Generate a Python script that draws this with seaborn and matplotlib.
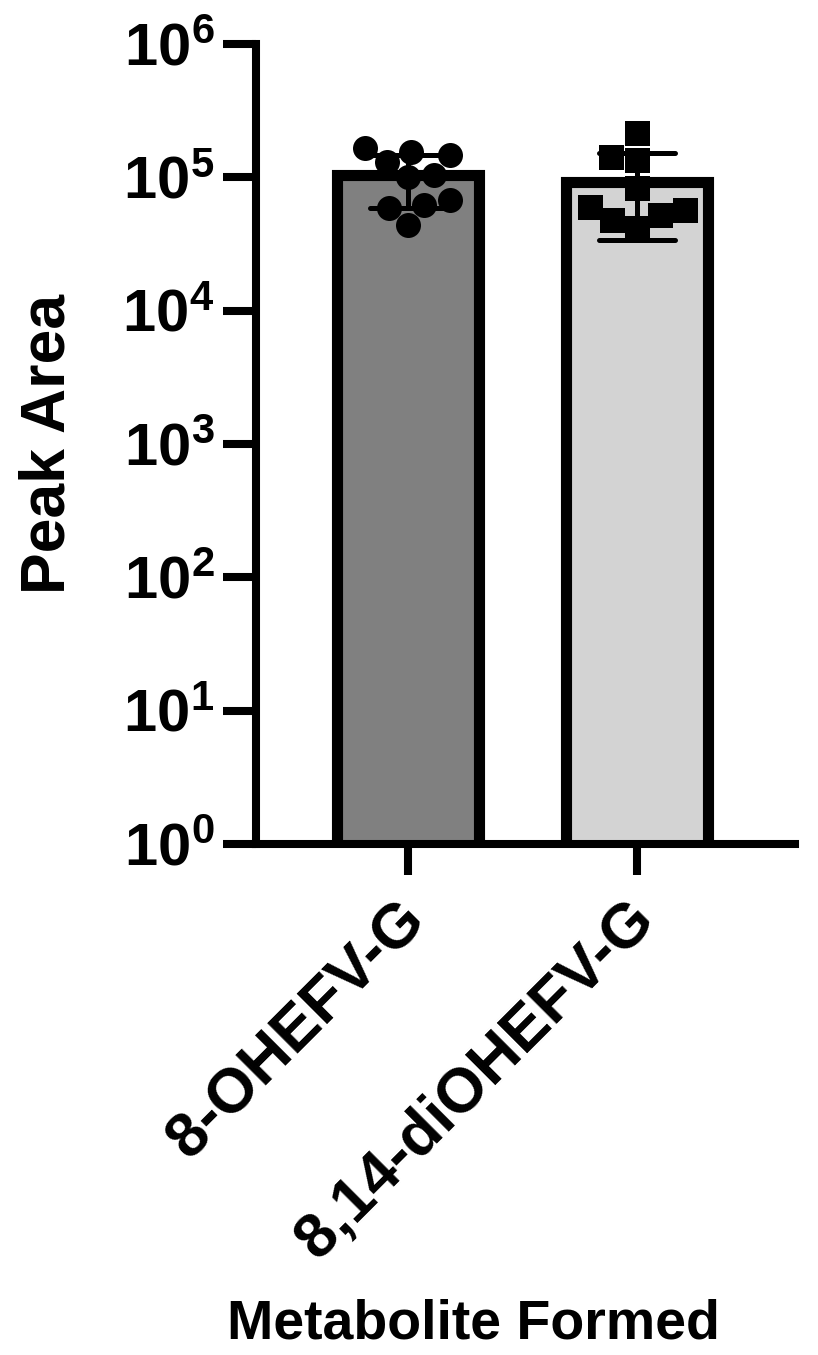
import numpy as np
import pandas as pd
import matplotlib
matplotlib.use("Agg")
import matplotlib.pyplot as plt
import matplotlib.transforms as mtransforms
import seaborn as sns
from matplotlib.ticker import FixedLocator, FuncFormatter, NullLocator

# Metabolites and replicate peak areas
categories = ["8-OHEFV-G", "8,14-diOHEFV-G"]
ohefv_g = [1.66e5, 1.04e5, 6.78e4, 4.41e4, 1.31e5, 1.47e5, 5.90e4, 1.55e5, 1.01e5, 6.22e4]
diohefv_g = [2.16e5, 1.43e5, 1.35e5, 8.34e4, 5.24e4, 6.01e4, 5.70e4, 4.80e4, 4.18e4]
bar_colors = ["#808080", "#d3d3d3"]
point_markers = ["o", "s"]
y_decades = [0, 1, 2, 3, 4, 5, 6]

df = pd.DataFrame({
    "Metabolite": [categories[0]] * len(ohefv_g) + [categories[1]] * len(diohefv_g),
    "Peak Area": ohefv_g + diohefv_g,
})

sns.set_style("ticks")
plt.rcParams["font.family"] = ["Liberation Sans", "DejaVu Sans"]
plt.rcParams["font.weight"] = "bold"
plt.rcParams["mathtext.fontset"] = "custom"
plt.rcParams["mathtext.bf"] = "Liberation Sans:bold"
plt.rcParams["mathtext.rm"] = "Liberation Sans:bold"
for key in ("axes.edgecolor", "xtick.color", "ytick.color", "text.color",
            "axes.labelcolor"):
    plt.rcParams[key] = "black"

fig = plt.figure(figsize=(8.18, 13.55), dpi=100)
ax = fig.add_axes([0.313, 0.3771, 0.659, 0.5904])

# Mean +/- SD bars (aggregated on a linear axis, then shown on log scale)
sns.barplot(
    data=df, x="Metabolite", y="Peak Area", hue="Metabolite",
    order=categories, hue_order=categories, palette=bar_colors,
    estimator="mean", errorbar="sd", capsize=0.33, width=0.62,
    edgecolor="black", linewidth=8,
    err_kws={"color": "black", "linewidth": 3.6},
    legend=False, ax=ax,
)

ax.set_yscale("log")
ax.set_ylim(10 ** y_decades[0], 10 ** y_decades[-1])
ax.set_xlim(-0.665, 1.69)

# Individual replicates
for cat, m in zip(categories, point_markers):
    sns.swarmplot(
        data=df[df["Metabolite"] == cat], x="Metabolite", y="Peak Area",
        order=categories, marker=m, color="black", size=18, linewidth=0,
        ax=ax, zorder=4,
    )

ax.set_xlim(-0.665, 1.69)
ax.set_ylim(10 ** y_decades[0], 10 ** y_decades[-1])

ax.yaxis.set_major_locator(FixedLocator([10.0 ** k for k in y_decades]))
ax.yaxis.set_minor_locator(NullLocator())
ax.yaxis.set_major_formatter(
    FuncFormatter(lambda v, p: r"$\mathbf{10^{%d}}$" % int(round(np.log10(v))))
)

sns.despine(ax=ax)
for side in ("left", "bottom"):
    ax.spines[side].set_linewidth(5.8)
    ax.spines[side].set_capstyle("projecting")

ax.tick_params(axis="y", length=24, width=5.8, labelsize=43, pad=6)
ax.tick_params(axis="x", length=22, width=5.8, labelsize=45, pad=26)

ax.set_xticks(range(len(categories)))
ax.set_xticklabels(categories, rotation=45, ha="right", va="center",
                   rotation_mode="anchor", fontweight="bold")
shift = mtransforms.ScaledTranslation(0.08, 0, fig.dpi_scale_trans)
for lab in ax.get_xticklabels():
    lab.set_transform(lab.get_transform() + shift)

ax.set_ylabel("Peak Area", fontsize=45, fontweight="bold")
ax.yaxis.set_label_coords(-0.386, 0.5)
ax.yaxis.label.set_verticalalignment("center")

ax.set_xlabel("Metabolite Formed", fontsize=40, fontweight="bold")
ax.xaxis.set_label_coords(0.4026, -0.6)
ax.xaxis.label.set_verticalalignment("center")

fig.savefig("out.png", dpi=100)
